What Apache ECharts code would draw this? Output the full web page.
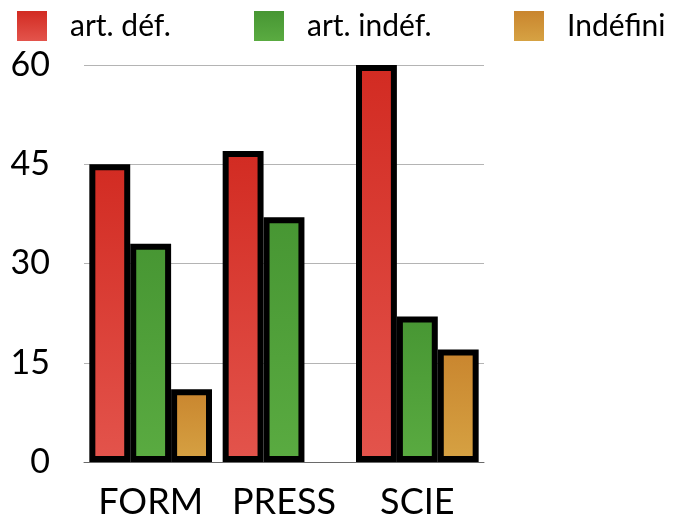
<!DOCTYPE html>
<html>
<head>
<meta charset="utf-8">
<script src="https://cdn.jsdelivr.net/npm/echarts@6/dist/echarts.min.js"></script>
<style>
  html, body { margin: 0; padding: 0; background: #fff; }
  #chart { width: 673px; height: 525px; }
</style>
</head>
<body>
<div id="chart"></div>
<script>
// values
const categories = ['FORM', 'PRESS', 'SCIE']
const artDef = [45, 47, 60]
const artIndef = [33, 37, 22]
const indefini = [11, null, 17] // no bar for PRESS
const yTicks = [0, 15, 30, 45, 60]

const font = 'Lato, "Open Sans", sans-serif'

const grad = (top, bottom) =>
    new echarts.graphic.LinearGradient(0, 0, 0, 1, [
        { offset: 0, color: top },
        { offset: 1, color: bottom },
    ])

const red = grad('#d22b22', '#e3544c')
const green = grad('#479633', '#5aab41')
const orange = grad('#c9852e', '#d6a243')

const legendAt = (name, left) => ({
    data: [name],
    left: left,
    top: 6,
    icon: 'rect',
    itemWidth: 30,
    itemHeight: 30,
    itemStyle: { borderWidth: 0 },
    textStyle: {
        fontFamily: font,
        fontSize: 30,
        color: '#000',
        padding: [0, 0, 0, 18],
    },
})

const bar = (name, data, color) => ({
    name: name,
    type: 'bar',
    data: data,
    barGap: '0%',
    barCategoryGap: '8%',
    itemStyle: {
        color: color,
        borderColor: '#000',
        borderWidth: 6,
    },
    emphasis: { disabled: true },
})

const chart = echarts.init(document.getElementById('chart'))
chart.setOption({
    animation: false,
    legend: [
        legendAt('art. déf.', 12),
        legendAt('art. indéf.', 249),
        legendAt('Indéfini', 509),
    ],
    grid: {
        left: 84,
        right: 189,
        top: 65,
        bottom: 63,
    },
    xAxis: {
        type: 'category',
        data: categories,
        axisTick: { show: false },
        axisLine: { lineStyle: { color: '#6a6a6a', width: 1 } },
        axisLabel: {
            interval: 0,
            hideOverlap: false,
            fontFamily: font,
            fontSize: 36,
            color: '#000',
            margin: 22,
        },
    },
    yAxis: {
        type: 'value',
        min: yTicks[0],
        max: yTicks[yTicks.length - 1],
        interval: 15,
        axisLine: { show: false },
        axisTick: { show: false },
        axisLabel: {
            fontFamily: font,
            fontSize: 34,
            color: '#000',
            margin: 34,
        },
        splitLine: { lineStyle: { color: '#b4b4b4', width: 1 } },
    },
    series: [
        bar('art. déf.', artDef, red),
        bar('art. indéf.', artIndef, green),
        bar('Indéfini', indefini, orange),
    ],
})
</script>
</body>
</html>
